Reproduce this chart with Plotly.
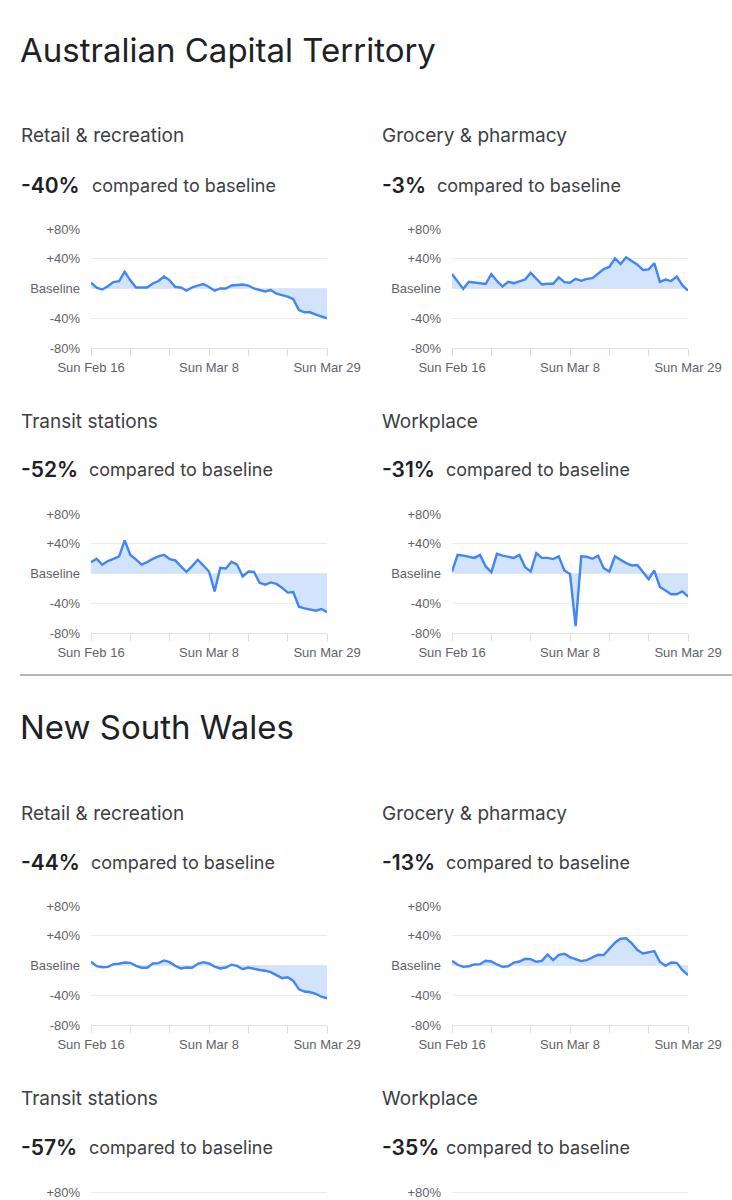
import pandas as pd
import plotly.graph_objects as go

# Google COVID-19 community mobility report, Feb 16 - Mar 29 2020 (percent vs baseline)
dates = pd.date_range("2020-02-16", "2020-03-29")

act_retail = [7.7, 1, -1.4, 3, 8.6, 10, 22.6, 11, 1.4, 1.4, 1.4, 6.8, 10, 16, 11, 2, 1.4, -3, 1.4, 4,
              6, 2, -3, 0, 0, 4, 5, 5.4, 4, 0, -2, -4, -2, -7, -9, -11, -14.5, -29, -32, -32, -35, -37.5, -40]
act_grocery = [19.4, 10, -0.5, 9, 7.7, 6.8, 6, 19.4, 10, 2.7, 9, 7.2, 9.5, 12, 21, 13, 5.4, 6.3, 6.3, 15,
               8.6, 7.7, 13, 10.4, 13, 14, 19.4, 26, 29, 40.5, 33, 42, 37, 32, 25, 25.7, 34, 9, 12, 10, 16, 4.5, -3]
act_transit = [15.3, 19.8, 11.7, 16.7, 19.8, 23, 44.6, 25, 19, 12, 15.3, 19.8, 23, 25, 19.4, 17.6, 9.5, 2.3,
               10, 18.5, 10.8, 2.7, -24, 7.7, 6.8, 15.8, 12, -4, 2.7, 2.3, -12.6, -15, -12, -14, -19, -25.7,
               -25, -44.6, -47, -48, -50, -47.7, -52]
act_workplace = [2.7, 25, 24, 22, 21, 25, 9.5, 1.8, 26.5, 24, 22.5, 21, 25, 8.6, 2.7, 27.5, 21, 21, 19.4, 23,
                 4, -0.5, -70.7, 23, 22.5, 19.8, 24, 7.2, 2.7, 23, 18.5, 14, 10.8, 11.3, 1.8, -7.7, 4, -18,
                 -23, -28, -28, -24, -31]
nsw_retail = [5, -1, -2.3, -1.8, 1.8, 2.3, 4, 3.6, -0.5, -3, -3, 2.7, 3.2, 6.8, 4.5, -0.5, -4, -2.7, -3, 2.3,
              4.5, 2.7, -1.4, -4, -2.7, 1, -0.5, -5, -2.7, -4.5, -6, -7, -9, -13, -17, -15.8, -20.7, -32, -35,
              -36, -38, -42, -44]
nsw_grocery = [6.3, 1, -1.8, -1, 1.4, 1.8, 6.3, 5.4, 1.4, -1.8, -1, 4, 5.4, 9, 8.6, 5, 6.3, 14.9, 7.2, 14.4,
               15.8, 11.3, 8.6, 5.9, 7.2, 10.8, 14.4, 14, 23, 30.6, 36, 36.5, 29.7, 20.7, 16.2, 18, 19.4, 5,
               -0.5, 4, 3.6, -6.3, -13]

tick_dates = ["2020-02-16", "2020-02-23", "2020-03-01", "2020-03-08", "2020-03-15", "2020-03-22", "2020-03-29"]
tick_text = ["Sun Feb 16", "", "", "Sun Mar 8", "", "", "Sun Mar 29"]
y_ticks = [-80, -40, 0, 40, 80]
y_text = ["-80%", "-40%", "Baseline", "+40%", "+80%"]

W, H = 732, 1200
LINE = "#4285f4"
FILL = "#d2e3fc"
GRID = "#ebebeb"
TICKC = "#5f6368"


def px(x):
    return x / W


def py(y):
    return 1 - y / H


cols = [(91, 327), (452, 688)]
rows = [(229, 348), (514, 633), (906, 1025)]

charts = [
    (act_retail, 0, 0), (act_grocery, 0, 1),
    (act_transit, 1, 0), (act_workplace, 1, 1),
    (nsw_retail, 2, 0), (nsw_grocery, 2, 1),
]

fig = go.Figure()
layout = {}
tfont = dict(family="Liberation Sans, Arial", size=13, color=TICKC)

for i, (vals, r, c) in enumerate(charts):
    n = i + 1
    sfx = str(n) if n > 1 else ""
    fig.add_trace(go.Scatter(x=dates, y=vals, mode="lines", fill="tozeroy",
                             line=dict(color=LINE, width=2.4), fillcolor=FILL,
                             xaxis="x" + sfx, yaxis="y" + sfx,
                             showlegend=False, hoverinfo="skip"))
    layout["xaxis" + sfx] = dict(domain=[px(cols[c][0]), px(cols[c][1])], anchor="y" + sfx,
                                 range=[dates[0], dates[-1]], tickvals=tick_dates, ticktext=tick_text,
                                 showgrid=False, zeroline=False, showline=True, linecolor="#e3e3e3",
                                 ticks="outside", ticklen=7, tickcolor="#dcdcdc", tickfont=tfont,
                                 automargin=False, fixedrange=True)
    layout["yaxis" + sfx] = dict(domain=[py(rows[r][1]), py(rows[r][0])], anchor="x" + sfx,
                                 range=[-80, 80], tickvals=y_ticks, ticktext=y_text,
                                 showgrid=True, gridcolor=GRID, zeroline=False, showline=False,
                                 ticks="", tickfont=tfont, ticklabelstandoff=10,
                                 automargin=False, fixedrange=True)

# the two NSW charts cut off by the bottom edge: only their +80% line shows
top_px = 1150
hpx = 119 / 160.0
for j, c in enumerate(cols):
    sfx = str(7 + j)
    fig.add_trace(go.Scatter(x=[], y=[], mode="lines", xaxis="x" + sfx, yaxis="y" + sfx,
                             showlegend=False, hoverinfo="skip"))
    layout["xaxis" + sfx] = dict(domain=[px(c[0]), px(c[1])], anchor="y" + sfx,
                                 range=[dates[0], dates[-1]], showgrid=False, zeroline=False,
                                 showline=False, ticks="", showticklabels=False,
                                 automargin=False, fixedrange=True)
    layout["yaxis" + sfx] = dict(domain=[0, py(top_px)], anchor="x" + sfx,
                                 range=[80 - (H - 1192) / hpx, 80 + (1192 - top_px) / hpx],
                                 tickvals=[80], ticktext=["+80%"], showgrid=True, gridcolor=GRID,
                                 zeroline=False, ticks="", tickfont=tfont, ticklabelstandoff=10,
                                 automargin=False, fixedrange=True)

HEAD = "Inter"
ann = []


def text(x, y, s, size, color, bold=False, family=HEAD):
    ann.append(dict(x=px(x), y=py(y), xref="paper", yref="paper", xanchor="left", yanchor="middle",
                    text=s, showarrow=False,
                    font=dict(family=family, size=size, color=color, weight=600 if bold else 400)))


text(18, 50, "Australian Capital Territory", 33, "#202124")
text(18, 727, "New South Wales", 33, "#202124")

blocks = [
    (20, 136, "Retail & recreation", "-40%", 91),
    (381, 136, "Grocery & pharmacy", "-3%", 436),
    (20, 421, "Transit stations", "-52%", 88),
    (381, 421, "Workplace", "-31%", 445),
    (20, 813, "Retail & recreation", "-44%", 90),
    (381, 813, "Grocery & pharmacy", "-13%", 445),
    (20, 1098, "Transit stations", "-57%", 88),
    (381, 1098, "Workplace", "-35%", 445),
]
for x, y, label, pct, cx in blocks:
    text(x - 1, y, label, 19, "#3c4043")
    text(x - 1, y + 49, pct, 21, "#202124", bold=True)
    text(cx - 1, y + 49, "compared to baseline", 18, "#3c4043")

fig.update_layout(
    template="none",
    width=W, height=H,
    margin=dict(l=0, r=0, t=0, b=0, pad=0),
    paper_bgcolor="white", plot_bgcolor="white",
    annotations=ann,
    shapes=[dict(type="line", xref="paper", yref="paper", x0=px(20), x1=1, y0=py(675), y1=py(675),
                 line=dict(color="#a0a0a0", width=1.5))],
    **layout,
)

fig.write_html("out.html", config={"displayModeBar": False},
               post_script="document.body.style.margin='0';")
